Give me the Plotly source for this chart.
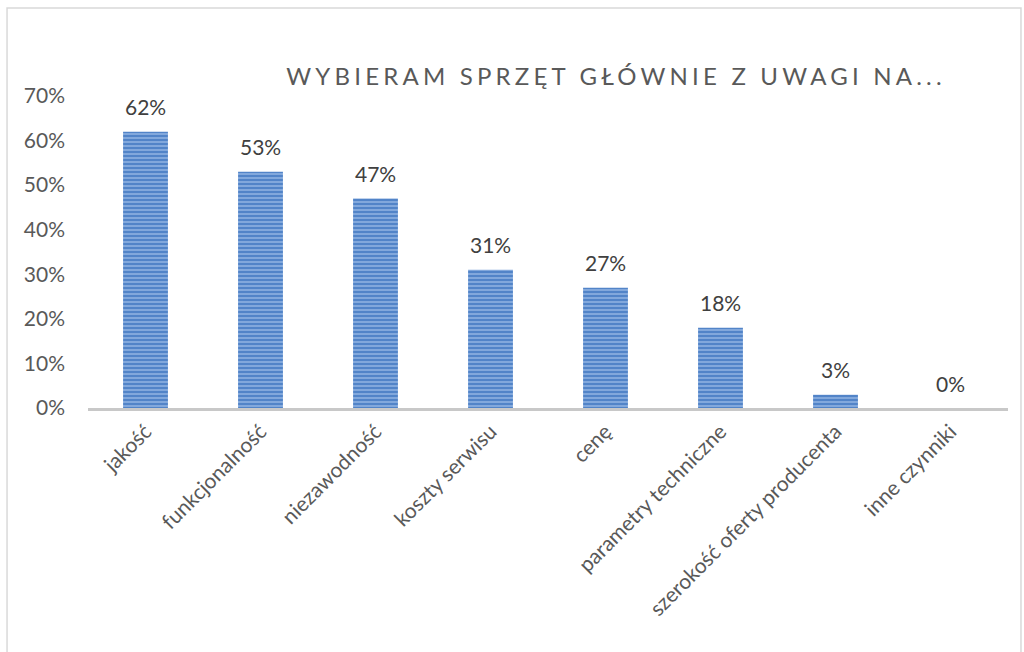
import plotly.graph_objects as go

categories = ["jakość", "funkcjonalność", "niezawodność", "koszty serwisu", "cenę",
              "parametry techniczne", "szerokość oferty producenta", "inne czynniki"]
values = [0.62, 0.53, 0.47, 0.31, 0.27, 0.18, 0.03, 0.0]
labels = ["62%", "53%", "47%", "31%", "27%", "18%", "3%", "0%"]
tick_vals = [0, 0.1, 0.2, 0.3, 0.4, 0.5, 0.6, 0.7]
tick_text = ["0%", "10%", "20%", "30%", "40%", "50%", "60%", "70%"]
title_text = "WYBIERAM SPRZĘT GŁÓWNIE Z UWAGI NA..."

FONT = "Lato, 'Open Sans', sans-serif"

fig = go.Figure(go.Bar(
    x=categories, y=values,
    cliponaxis=False,
    width=0.39,
    hoverinfo="skip",
    marker=dict(color="#5284c8", line=dict(width=0),
                pattern=dict(shape="-", fgcolor="#bcd6f4", bgcolor="#5284c8",
                             size=4, solidity=0.45)),
))

label_annotations = [
    dict(x=c, y=v, text=t, xref="x", yref="y", showarrow=False,
         yshift=25, xanchor="center", yanchor="middle",
         font=dict(family=FONT, size=21, color="#404040"))
    for c, v, t in zip(categories, values, labels)
]

fig.update_layout(
    width=1024, height=652,
    margin=dict(l=88, r=16, t=96, b=244),
    paper_bgcolor="white", plot_bgcolor="white",
    showlegend=False,
    font=dict(family=FONT, color="#595959"),
    xaxis=dict(showgrid=False, showline=True, linecolor="#c8c8c8", linewidth=3,
               tickangle=-45, tickfont=dict(size=21, color="#595959"),
               ticks="", fixedrange=True),
    yaxis=dict(range=[0, 0.7], tickvals=tick_vals, ticktext=tick_text,
               showgrid=False, zeroline=False, showline=False,
               tickfont=dict(size=21, color="#595959"), ticks="", ticklen=0,
               ticklabelstandoff=22, automargin=False, fixedrange=True),
    annotations=[dict(text=title_text, xref="paper", yref="paper",
                      x=0.574, y=1.066, showarrow=False, xanchor="center", yanchor="middle",
                      font=dict(family=FONT, size=24, color="#595959"))] + label_annotations,
    shapes=[dict(type="rect", xref="paper", yref="paper",
                 x0=-0.088, x1=1.0141, y0=-0.95, y1=1.282,
                 line=dict(color="#d9d9d9", width=1.5), layer="below")],
)

post = """
document.body.style.margin = '0';
document.body.style.overflow = 'hidden';
var ann = document.querySelectorAll('.annotation-text');
if (ann.length) { ann[0].style.letterSpacing = '4.2px'; }
"""
fig.write_html("out.html", post_script=post, config={"displayModeBar": False})
